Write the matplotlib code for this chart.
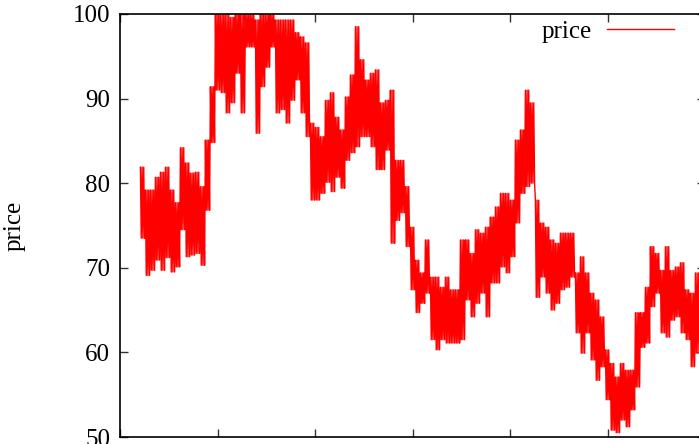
import numpy as np
import matplotlib
matplotlib.use('Agg')
import matplotlib.pyplot as plt

# price series: upper / lower envelope per slice (about one week each)
price_hi = [81.9, 79.2, 79.2, 80.7, 81.3, 81.9, 79.2, 77.7, 84.2, 82.4,
            81.2, 81.3, 79.6, 85.1, 91.4, 100, 100, 100, 99.6, 100,
            100, 100, 100, 99.3, 100, 100, 100, 99.3, 99.3, 99.3,
            99.3, 97.8, 97.3, 96.6, 87.1, 86.6, 85.5, 89.8, 90.7, 87.8,
            86.3, 90.2, 92.8, 98.5, 94.6, 92.2, 93.0, 93.4, 89.5, 89.8,
            91.0, 82.7, 82.7, 79.6, 74.8, 70.9, 69.4, 73.3, 68.9, 68.9,
            67.7, 68.9, 67.4, 67.4, 73.3, 73.3, 71.7, 74.5, 74.1, 74.8,
            76.0, 77.2, 78.8, 78.8, 78.0, 85.1, 86.3, 91.0, 89.5, 78.0,
            75.3, 74.8, 73.3, 72.9, 74.1, 74.1, 74.1, 69.4, 71.3, 69.4,
            67.0, 66.2, 64.2, 60.3, 58.7, 57.1, 58.7, 57.9, 57.9, 64.7,
            64.7, 67.7, 72.5, 71.7, 69.7, 72.5, 69.7, 70.1, 70.6, 67.4,
            67.0, 69.4]
price_lo = [73.5, 69.1, 69.7, 70.9, 69.7, 71.2, 69.5, 70.1, 74.5, 71.3,
            71.5, 71.7, 70.3, 76.8, 84.8, 91.0, 90.7, 88.3, 89.5, 93.0,
            88.3, 96.1, 96.1, 85.9, 91.4, 93.7, 96.1, 88.3, 88.7, 87.1,
            89.8, 92.2, 88.3, 85.5, 78.0, 78.0, 78.8, 80.1, 79.0, 80.7,
            79.4, 82.7, 83.6, 84.3, 85.5, 85.5, 84.3, 81.6, 81.6, 83.9,
            72.9, 75.6, 76.5, 72.5, 67.4, 64.7, 65.8, 67.0, 61.5, 60.3,
            61.5, 61.1, 61.1, 61.1, 61.5, 66.2, 64.2, 65.8, 67.0, 64.2,
            68.2, 68.2, 70.1, 69.4, 71.3, 75.3, 78.8, 79.6, 80.0, 66.5,
            68.9, 67.0, 65.0, 65.8, 67.4, 67.7, 68.9, 62.3, 59.9, 62.3,
            59.1, 56.7, 58.3, 54.4, 50.8, 50.5, 52.0, 51.2, 53.2, 55.9,
            60.6, 61.1, 65.4, 67.0, 62.3, 61.8, 63.8, 64.2, 62.3, 61.5,
            58.3, 59.9]
start_week = 4

# interleave the envelope into one noisy trace (three swings per week)
weeks = np.arange(len(price_hi)) + start_week
x = np.column_stack([weeks + f for f in (0.08, 0.25, 0.42, 0.58, 0.75, 0.92)]).ravel()
y = np.column_stack([price_hi, price_lo] * 3).ravel()

plt.rcParams['font.family'] = 'Liberation Serif'
fig = plt.figure(figsize=(6.99, 4.44), dpi=100)
ax = fig.add_axes([120/699, 7/444, 585/699, 423/444])

ax.plot(x, y, color='red', linewidth=1.0, label='price')

ax.set_xlim(0, 117)
ax.set_ylim(50, 100)
ax.set_xticks(np.linspace(0, 117, 7))
ax.set_xticklabels([])
ax.set_yticks([50, 60, 70, 80, 90, 100])
ax.tick_params(direction='in', length=6, width=1, top=True, right=True,
               labelsize=18, pad=7, color='#333333')
for s in ax.spines.values():
    s.set_linewidth(1.2)
    s.set_color('black')
ax.set_ylabel('price', fontsize=18)
ax.yaxis.set_label_coords(-94/585, 0.5)

ax.legend(loc='upper right', bbox_to_anchor=(554/585, 0.985), frameon=False,
          fontsize=18, markerfirst=False, handlelength=2.7, handletextpad=0.6,
          borderpad=0, borderaxespad=0)

fig.savefig('out.png', dpi=100)
